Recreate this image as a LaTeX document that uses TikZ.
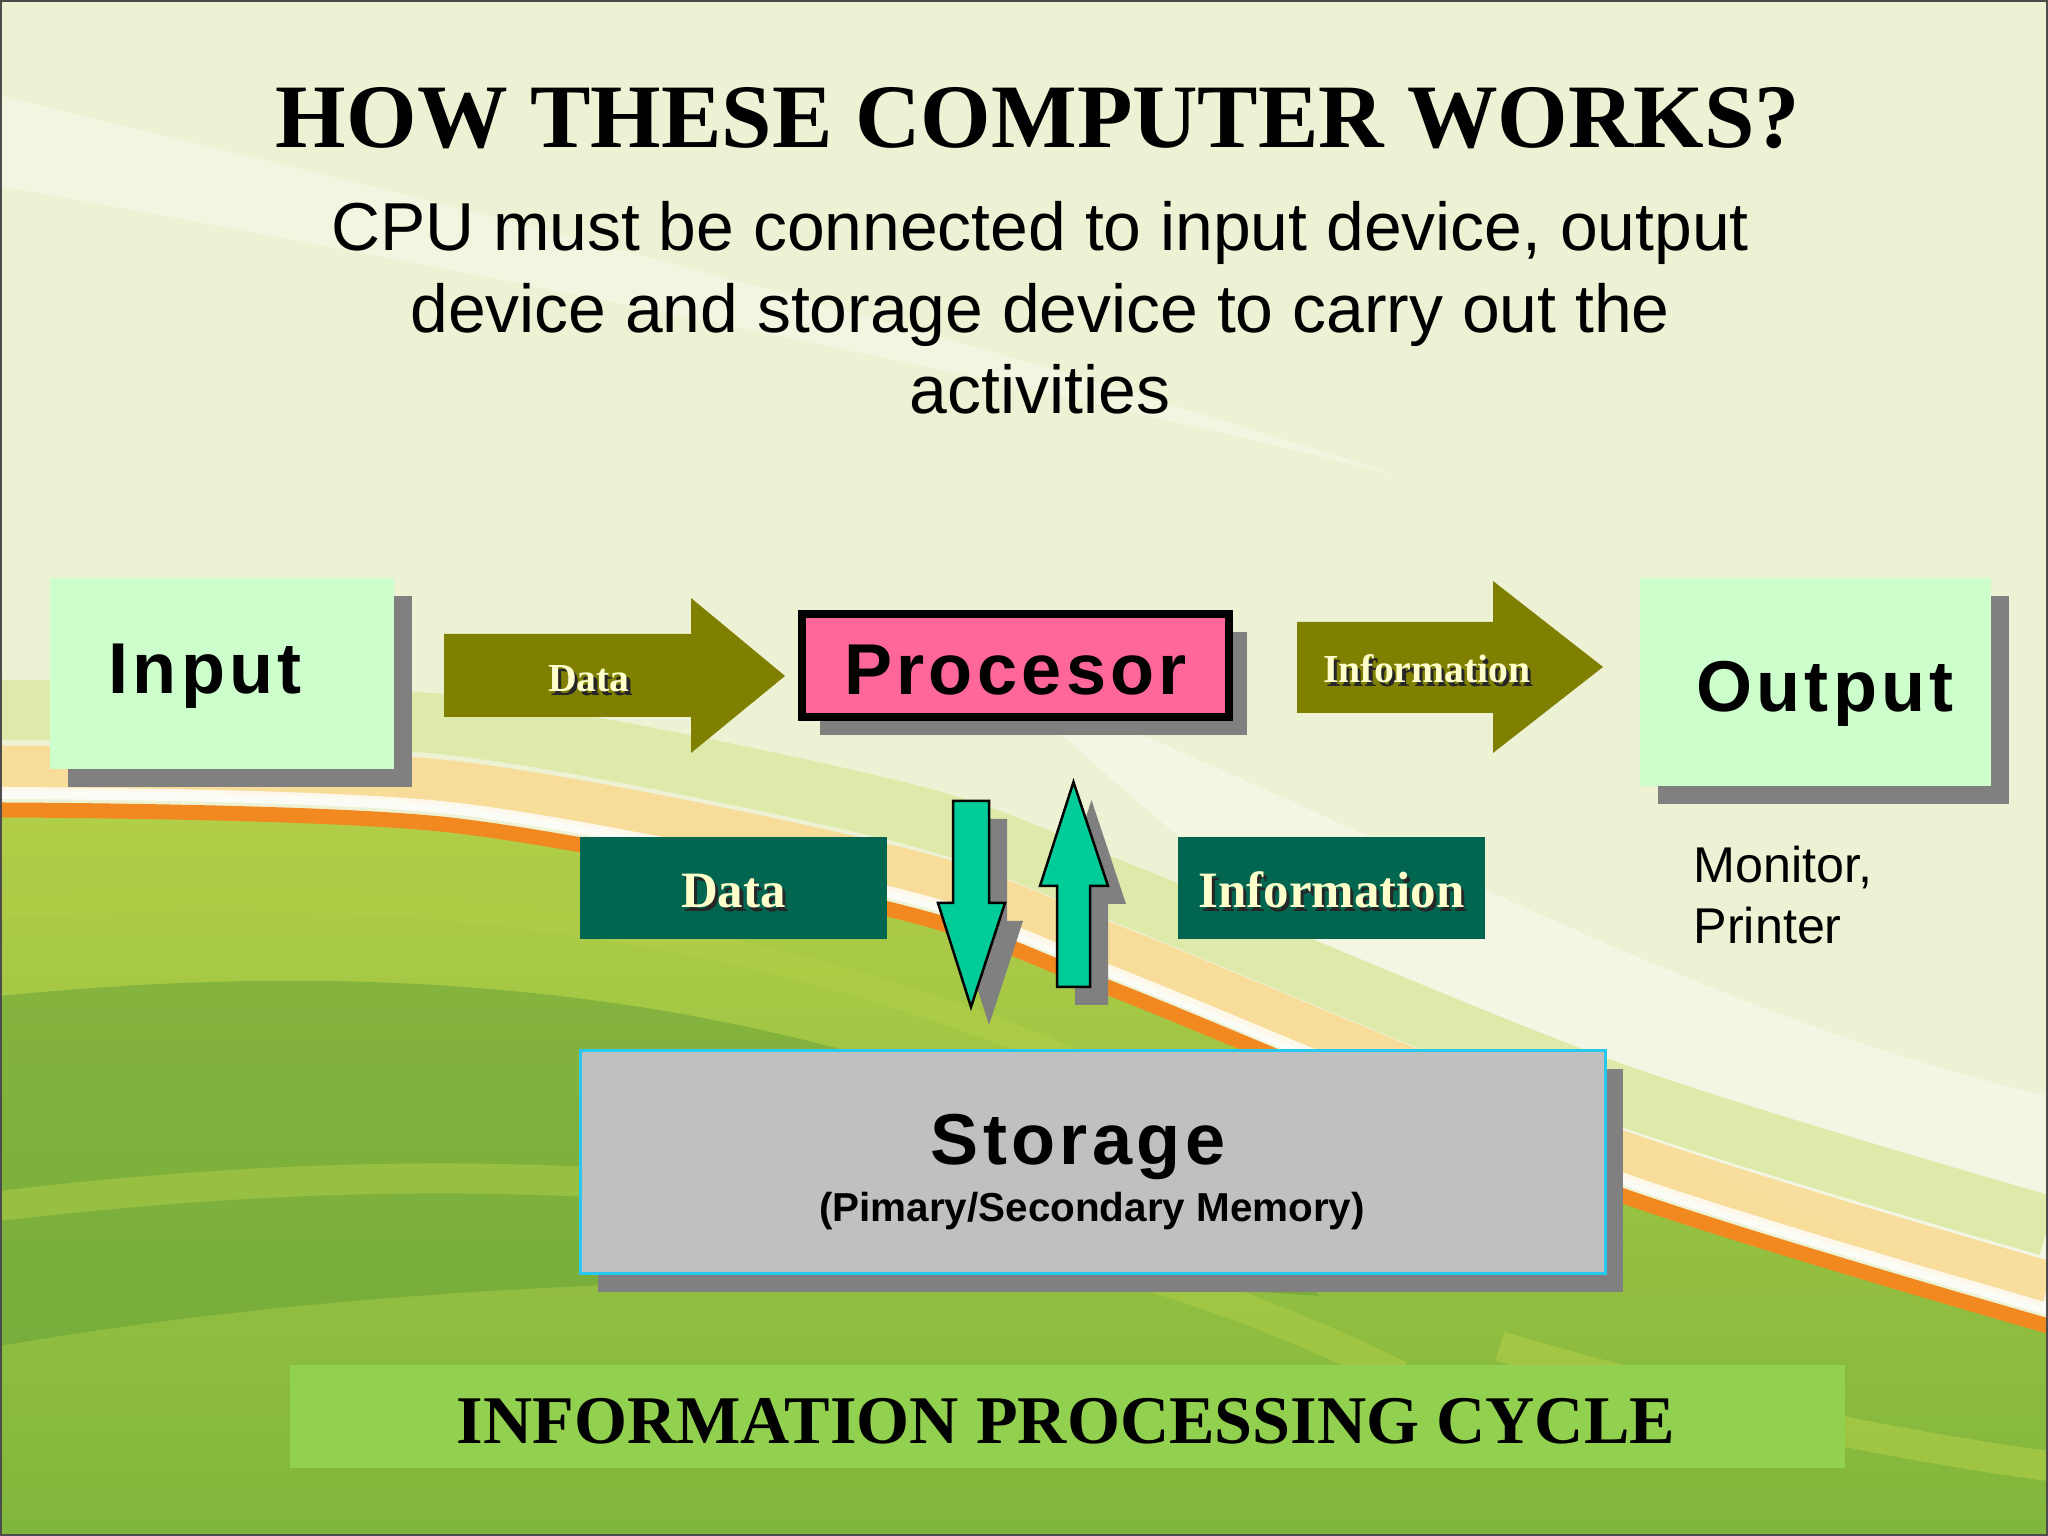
\documentclass[tikz,border=0pt]{standalone}
\usepackage{fontspec}
\setmainfont{Liberation Serif}
\setsansfont{Liberation Sans}
\newfontfamily\spacedsans[LetterSpace=6]{Liberation Sans}
\definecolor{SlideCream}{RGB}{238,242,212}
\definecolor{GrassTop}{RGB}{178,206,72}
\definecolor{GrassMid}{RGB}{128,182,60}
\definecolor{GrassDark}{RGB}{100,160,56}
\definecolor{SwooshGreen}{RGB}{222,234,170}
\definecolor{StripeOrange}{RGB}{242,136,32}
\definecolor{PaleOrange}{RGB}{250,218,145}
\definecolor{MintBox}{RGB}{204,255,204}
\definecolor{ShadowGray}{RGB}{128,128,128}
\definecolor{OliveArrow}{RGB}{128,128,0}
\definecolor{ProcPink}{RGB}{255,102,153}
\definecolor{TealBox}{RGB}{0,102,80}
\definecolor{SeaGreen}{RGB}{0,204,153}
\definecolor{StoreGray}{RGB}{192,192,192}
\definecolor{StoreEdge}{RGB}{40,200,240}
\definecolor{BannerGreen}{RGB}{146,208,80}
\definecolor{LabelCream}{RGB}{255,255,204}
\usetikzlibrary{calc,shadows}
% cream letters with a dark drop
\newcommand{\embossed}[1]{\leavevmode\rlap{\kern0.9pt\raisebox{-0.9pt}{\textcolor{black!85}{#1}}}#1}

\begin{document}
\begin{tikzpicture}[
  shadowed/.style={drop shadow={shadow xshift=0.18cm,shadow yshift=-0.18cm,fill=ShadowGray,opacity=1}},
  devbox/.style={shadowed,fill=MintBox,inner sep=0pt},
  devtxt/.style={anchor=base,font=\spacedsans\bfseries\fontsize{20.5}{24}\selectfont},
  flowlbl/.style={anchor=base,text=LabelCream,font=\bfseries\fontsize{11.3}{13}\selectfont},
  tagbox/.style={fill=TealBox,minimum width=3.07cm,minimum height=1.02cm,inner sep=0pt,text height=0.40cm,text depth=0pt,
    text=LabelCream,font=\bfseries\fontsize{14.5}{16}\selectfont},
  updown/.style={shadowed,fill=SeaGreen,draw=black,line width=0.025cm}]
\useasboundingbox (0,0) rectangle (20.48,15.36);
% backdrop
\fill[SlideCream] (0,0) rectangle (20.48,15.36);
\fill[white,opacity=0.3] (0,14.4) .. controls (5,13.2) and (9,12.2) .. (14,10.6) .. controls (10,11.6) and (5,12.6) .. (0,13.5) -- cycle;
\fill[white,opacity=0.35] (10,8.6) .. controls (14,7.0) and (17,5.2) .. (20.48,4.4) -- (20.48,2.3) .. controls (17,3.4) and (13.5,5.2) .. (10,8.6) -- cycle;
\draw[SwooshGreen,line width=0.6cm,yshift=1.0cm] plot[smooth] coordinates {(0,7.26) (4.5,7.11) (9,6.24) (11.22,5.43) (16.12,3.44) (20.48,2.10)};
\draw[PaleOrange,opacity=0.85,line width=0.45cm,yshift=0.42cm] plot[smooth] coordinates {(0,7.26) (4.5,7.11) (9,6.24) (11.22,5.43) (16.12,3.44) (20.48,2.10)};
\draw[white,opacity=0.8,line width=0.12cm,yshift=0.17cm] plot[smooth] coordinates {(0,7.26) (4.5,7.11) (9,6.24) (11.22,5.43) (16.12,3.44) (20.48,2.10)};
\shade[top color=GrassTop,bottom color=GrassMid] plot[smooth] coordinates {(0,7.26) (4.5,7.11) (9,6.24) (11.22,5.43) (16.12,3.44) (20.48,2.10)} -- (20.48,0) -- (0,0) -- cycle;
\fill[GrassDark,opacity=0.5] (0,5.4) .. controls (3,5.7) and (6,5.6) .. (9,4.7) .. controls (11,4.0) and (12,3.3) .. (13.2,2.4) .. controls (9,2.7) and (4,2.6) .. (0,1.9) -- cycle;
\draw[GrassTop,opacity=0.6,line width=0.25cm] (0,6.3) .. controls (4,6.6) and (8,6.1) .. (11.5,4.4);
\draw[GrassTop,opacity=0.5,line width=0.3cm] (0,3.3) .. controls (5,3.9) and (10,3.6) .. (14,1.6);
\draw[GrassTop,opacity=0.6,line width=0.3cm] (15,1.9) .. controls (17,1.3) and (19,0.9) .. (20.48,0.7);
\draw[StripeOrange,line width=0.15cm] plot[smooth] coordinates {(0,7.26) (4.5,7.11) (9,6.24) (11.22,5.43) (16.12,3.44) (20.48,2.10)};
\draw[black!70,line width=0.02cm] (0.01,0.01) rectangle (20.47,15.35);

% headings
\node[anchor=base,font=\bfseries\fontsize{25.8}{30}\selectfont] (title) at (10.38,13.88) {HOW THESE COMPUTER WORKS?};
\node[anchor=north,inner sep=0pt,align=center,font=\sffamily\fontsize{19.3}{23.2}\selectfont] (intro) at (10.40,13.35)
  {CPU must be connected to input device, output\\device and storage device to carry out the\\activities};

% top row
\node[devbox,minimum width=3.44cm,minimum height=1.91cm] (input) at (2.22,8.625) {};
\node[devtxt] (inputtxt) at (2.05,8.42) {Input};
\fill[OliveArrow] (4.44,9.02) -- (6.91,9.02) -- (6.91,9.38) -- (7.85,8.6) -- (6.91,7.83) -- (6.91,8.19) -- (4.44,8.19) -- cycle;
\node[flowlbl] (datalbl) at (5.89,8.44) {\embossed{Data}};
\node[shadowed,draw=black,line width=0.08cm,fill=ProcPink,minimum width=4.27cm,minimum height=1.03cm,inner sep=0pt,
  text height=0.59cm,text depth=0pt,font=\spacedsans\bfseries\fontsize{20.5}{24}\selectfont] (proc) at (10.155,8.705) {Procesor};
\fill[OliveArrow] (12.97,9.14) -- (14.93,9.14) -- (14.93,9.55) -- (16.03,8.69) -- (14.93,7.83) -- (14.93,8.23) -- (12.97,8.23) -- cycle;
\node[flowlbl] (infolbl) at (14.27,8.53) {\embossed{Information}};
\node[devbox,minimum width=3.51cm,minimum height=2.08cm] (output) at (18.155,8.54) {};
\node[devtxt] (outputtxt) at (18.25,8.24) {Output};
\node[anchor=north west,inner sep=0pt,align=left,font=\sffamily\fontsize{14.3}{17.4}\selectfont] (devices) at (16.93,6.91) {Monitor,\\Printer};

% to and from storage
\node[tagbox] (tagdata) at (7.335,6.48) {\embossed{Data}};
\node[tagbox] (taginfo) at (13.315,6.48) {\embossed{Information}};
\draw[updown] (9.53,7.35) -- (9.89,7.35) -- (9.89,6.33) -- (10.05,6.33) -- (9.71,5.29) -- (9.38,6.33) -- (9.53,6.33) -- cycle;
\draw[updown] (10.57,5.49) -- (10.90,5.49) -- (10.90,6.50) -- (11.08,6.50) -- (10.735,7.54) -- (10.40,6.50) -- (10.57,6.50) -- cycle;
\node[shadowed,draw=StoreEdge,line width=0.03cm,fill=StoreGray,minimum width=10.25cm,minimum height=2.23cm] (storage) at (10.925,3.735) {};
\node[devtxt] (storagetxt) at (10.78,3.71) {Storage};
\node[anchor=base,font=\sffamily\bfseries\fontsize{11.5}{13}\selectfont] (memtxt) at (10.92,3.14) {(Pimary/Secondary Memory)};

% caption strip
\node[fill=BannerGreen,minimum width=15.55cm,minimum height=1.03cm,inner sep=0pt] (banner) at (10.675,1.195) {};
\node[anchor=base,font=\bfseries\fontsize{19.4}{23}\selectfont] (bannertxt) at (10.66,0.92) {INFORMATION PROCESSING CYCLE};
\end{tikzpicture}
\end{document}
